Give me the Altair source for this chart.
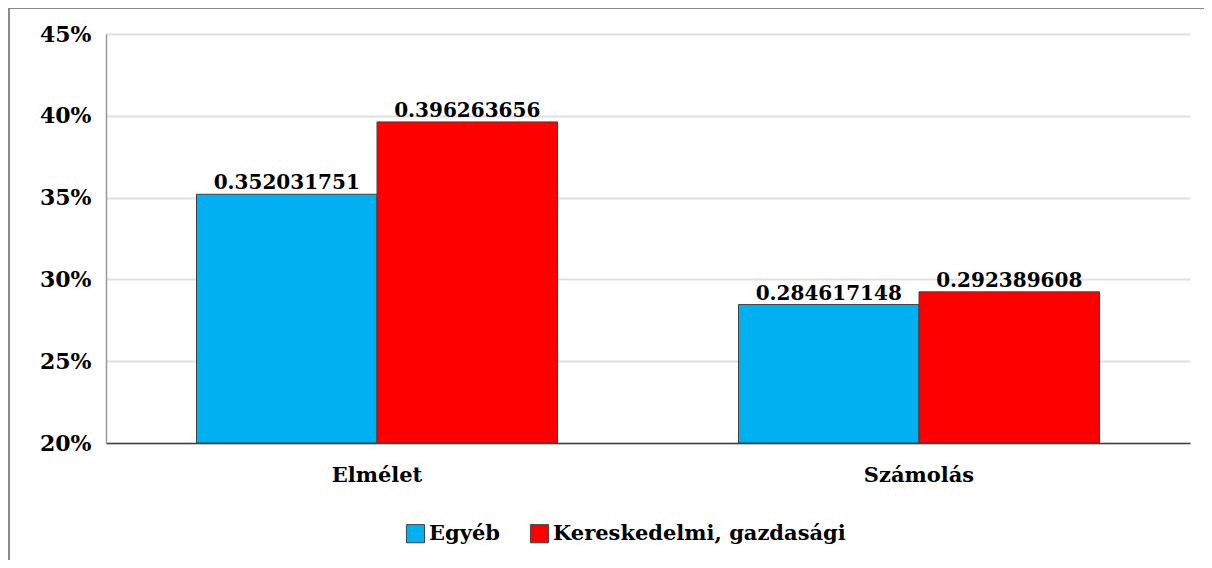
import altair as alt
import pandas as pd

categories = ["Elmélet", "Elmélet", "Számolás", "Számolás"]
series = ["Egyéb", "Kereskedelmi, gazdasági", "Egyéb", "Kereskedelmi, gazdasági"]
values = [0.352031751, 0.396263656, 0.284617148, 0.292389608]
labels = ["0.352031751", "0.396263656", "0.284617148", "0.292389608"]
series_order = ["Egyéb", "Kereskedelmi, gazdasági"]
colors = ["#00B0F0", "#FF0000"]

df = pd.DataFrame({"cat": categories, "series": series, "value": values, "label": labels})

FONT = "DejaVu Serif"
W, H = 1084, 409

xenc = alt.X("cat:N", title=None, sort=["Elmélet", "Számolás"],
             scale=alt.Scale(paddingInner=0.334, paddingOuter=0.167),
             axis=alt.Axis(labelAngle=0, labelFont=FONT, labelFontSize=21, labelFontWeight="bold",
                           labelColor="#000000", labelPadding=21, ticks=False,
                           domainColor="#404040", domainWidth=1.5, grid=False))
yscale = alt.Scale(domain=[0.2, 0.45], zero=False, nice=False)

base = alt.Chart(df)

bars = base.mark_bar(stroke="#404040", strokeWidth=1).encode(
    x=xenc,
    xOffset=alt.XOffset("series:N", sort=series_order, scale=alt.Scale(paddingInner=0, paddingOuter=0)),
    y=alt.Y("value:Q", scale=yscale, title=None,
            axis=alt.Axis(format="%", values=[0.2, 0.25, 0.3, 0.35, 0.4, 0.45],
                          labelFont=FONT, labelFontSize=22, labelFontWeight="bold",
                          labelColor="#000000", labelPadding=15, ticks=False,
                          domainColor="#9a9a9a", domainWidth=1.5,
                          gridColor="#e0e0e0", gridWidth=2)),
    y2=alt.datum(0.2),
    color=alt.Color("series:N", sort=series_order,
                    scale=alt.Scale(domain=series_order, range=colors),
                    legend=alt.Legend(title=None, orient="none", direction="horizontal",
                                      legendX=299, legendY=489,
                                      symbolType="square", symbolSize=330,
                                      symbolStrokeColor="#404040", symbolStrokeWidth=1,
                                      labelFont=FONT, labelFontSize=21, labelFontWeight="bold",
                                      labelColor="#000000", labelOffset=3, columnPadding=28,
                                      labelLimit=0)),
)

text = base.mark_text(font=FONT, fontSize=20, fontWeight="bold", color="#000000",
                      baseline="bottom", dy=-1).encode(
    x=alt.X("cat:N", sort=["Elmélet", "Számolás"]),
    xOffset=alt.XOffset("series:N", sort=series_order),
    y=alt.Y("value:Q", scale=yscale),
    text="label:N",
)

frame_top = alt.Chart(pd.DataFrame({"k": [0]})).mark_rule(color="#8a8a8a", strokeWidth=2).encode(
    x=alt.value(-97), x2=alt.value(1100), y=alt.value(-26))
frame_left = alt.Chart(pd.DataFrame({"k": [0]})).mark_rule(color="#8a8a8a", strokeWidth=2).encode(
    x=alt.value(-97), y=alt.value(-26), y2=alt.value(560))

chart = alt.layer(bars, text, frame_top, frame_left).properties(
    width=W, height=H,
    autosize=alt.AutoSizeParams(type="none"),
    padding={"left": 98, "top": 26, "right": 14, "bottom": 117},
).configure_view(stroke=None)

chart.save("out.html", embed_options={"renderer": "svg", "actions": False})
